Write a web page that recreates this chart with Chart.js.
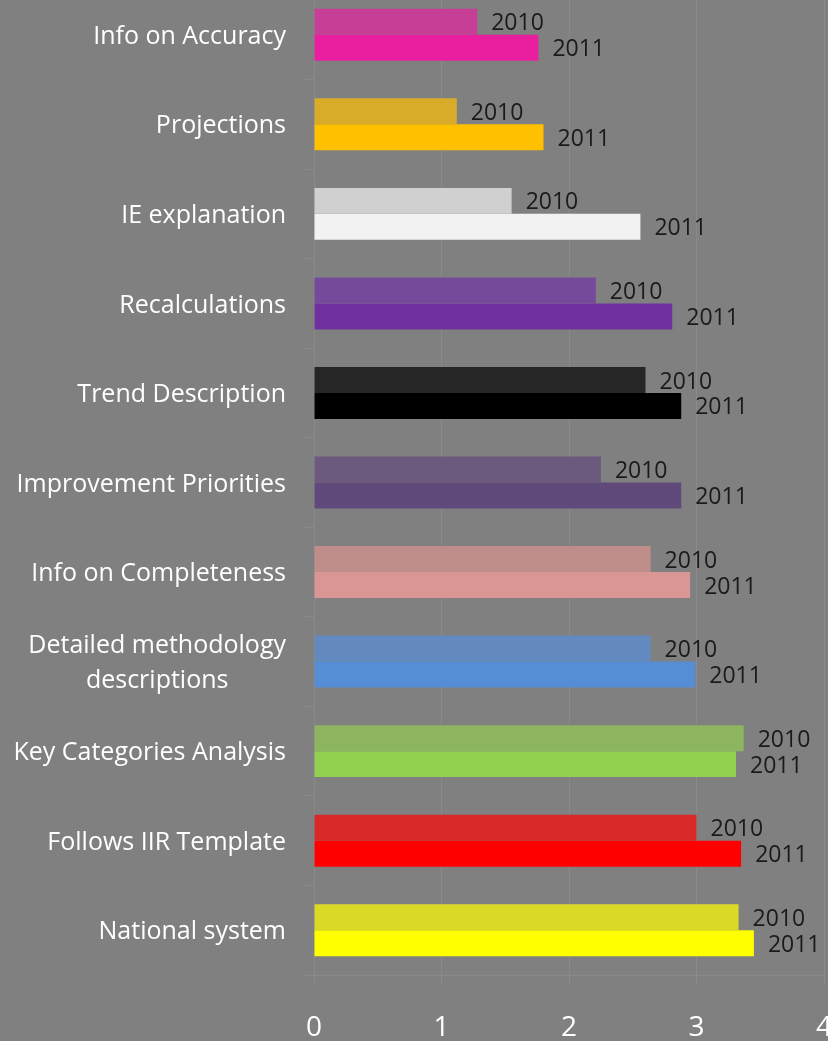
<!DOCTYPE html>
<html>
<head>
<meta charset="utf-8">
<script src="https://cdn.jsdelivr.net/npm/chart.js@4"></script>
<style>
  html, body { margin: 0; padding: 0; background: #808080; }
  #wrap { position: relative; width: 828px; height: 1041px; overflow: hidden; background: #808080; }
  #chart { position: absolute; left: 0; top: -20px; }
</style>
</head>
<body>
<div id="wrap"><canvas id="chart" width="860" height="1061"></canvas></div>
<script>
// categories, top to bottom
const CATEGORIES = [
  'Info on Accuracy',
  'Projections',
  'IE explanation',
  'Recalculations',
  'Trend Description',
  'Improvement Priorities',
  'Info on Completeness',
  ['Detailed methodology', 'descriptions'],
  'Key Categories Analysis',
  'Follows IIR Template',
  'National system'
];

const VALUES_2010 = [1.28, 1.12, 1.55, 2.21, 2.60, 2.25, 2.64, 2.64, 3.37, 3.00, 3.33];
const VALUES_2011 = [1.76, 1.80, 2.56, 2.81, 2.88, 2.88, 2.95, 2.99, 3.31, 3.35, 3.45];

// each category has its own pair of colours (2010 muted, 2011 bright)
const COLORS_2010 = ['#C63E96', '#D8AC28', '#D0D0D0', '#764A9A', '#262626', '#6B5A7E',
                     '#BF8E8B', '#638ABF', '#8DB560', '#D82828', '#DADA26'];
const COLORS_2011 = ['#E91FA0', '#FFC000', '#F2F2F2', '#7030A0', '#000000', '#604A7B',
                     '#DA9694', '#558ED5', '#92D050', '#FF0000', '#FFFF00'];

const X_TICKS = [0, 1, 2, 3, 4];

const GRID = '#8a8a8a';

// category names drawn by hand so the two-line one can be centred like the original
const catLabels = {
  id: 'catLabels',
  afterDraw(chart) {
    const { ctx, scales: { y } } = chart;
    ctx.save();
    ctx.fillStyle = '#ffffff';
    ctx.font = '25px "Open Sans"';
    ctx.textBaseline = 'middle';
    const right = y.right - 28;
    const lh = 35;
    CATEGORIES.forEach((lab, i) => {
      const yc = y.getPixelForTick(i) + 2;
      const lines = Array.isArray(lab) ? lab : [lab];
      const w = Math.max(...lines.map(l => ctx.measureText(l).width));
      lines.forEach((l, j) => {
        const ly = yc + (j - (lines.length - 1) / 2) * lh;
        if (lines.length > 1) {
          ctx.textAlign = 'center';
          ctx.fillText(l, right - w / 2, ly);
        } else {
          ctx.textAlign = 'right';
          ctx.fillText(l, right, ly);
        }
      });
    });
    ctx.restore();
  }
};

// series name written after every bar
const barLabels = {
  id: 'barLabels',
  afterDatasetsDraw(chart) {
    const { ctx } = chart;
    ctx.save();
    ctx.fillStyle = '#1a1a1a';
    ctx.font = '23px "Open Sans"';
    ctx.textAlign = 'left';
    ctx.textBaseline = 'middle';
    chart.data.datasets.forEach((ds, di) => {
      chart.getDatasetMeta(di).data.forEach(bar => {
        ctx.fillText(ds.label, bar.x + 14, bar.y + 2);
      });
    });
    ctx.restore();
  }
};

new Chart(document.getElementById('chart'), {
  type: 'bar',
  data: {
    labels: CATEGORIES,
    datasets: [
      { label: '2010', data: VALUES_2010, backgroundColor: COLORS_2010 },
      { label: '2011', data: VALUES_2011, backgroundColor: COLORS_2011 }
    ]
  },
  options: {
    indexAxis: 'y',
    responsive: false,
    animation: false,
    categoryPercentage: 0.58,
    barPercentage: 1,
    layout: { padding: { top: 10, right: 36, left: 0, bottom: 0 } },
    plugins: {
      legend: { display: false },
      tooltip: { enabled: false }
    },
    scales: {
      x: {
        min: 0,
        max: 4,
        afterBuildTicks: scale => { scale.ticks = X_TICKS.map(v => ({ value: v })); },
        afterFit: scale => { scale.height = 66; },
        grid: { color: GRID, tickLength: 10 },
        border: { color: GRID },
        ticks: { color: '#ffffff', font: { family: 'Open Sans', size: 28 }, padding: 26 }
      },
      y: {
        afterFit: scale => { scale.width = 314; },
        grid: { color: GRID, drawOnChartArea: false, tickLength: 9 },
        border: { color: GRID },
        ticks: { display: false }
      }
    }
  },
  plugins: [catLabels, barLabels]
});
</script>
</body>
</html>
